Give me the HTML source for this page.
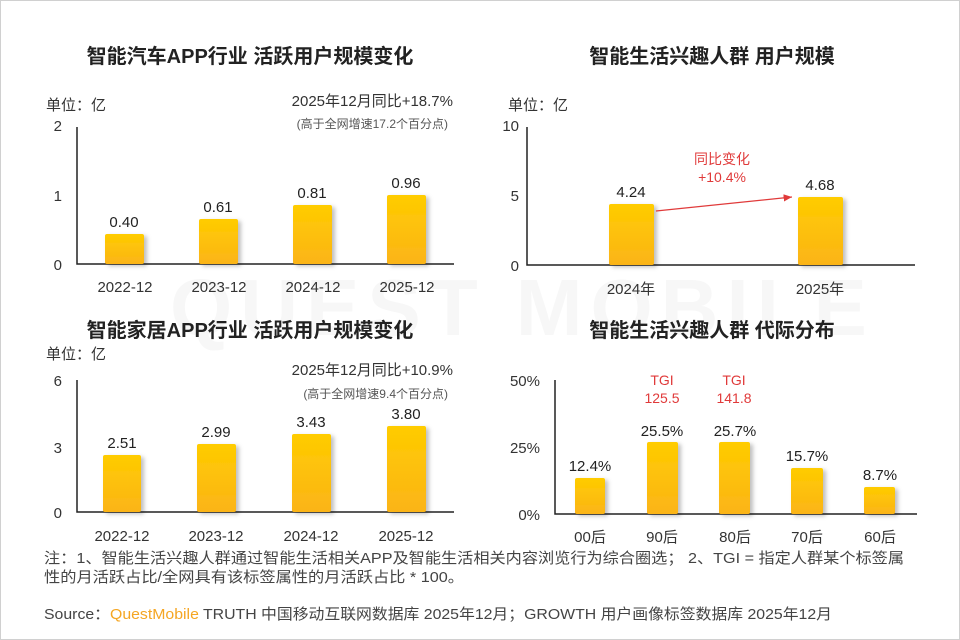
<!DOCTYPE html>
<html><head><meta charset="utf-8"><style>
html,body{margin:0;padding:0;background:#fff;}
svg{display:block;font-family:"Liberation Sans","Noto Sans CJK SC",sans-serif;}
</style></head><body>
<svg width="960" height="640" viewBox="0 0 960 640" xmlns="http://www.w3.org/2000/svg">
<defs>
<linearGradient id="g" x1="0" y1="0" x2="0" y2="1"><stop offset="0" stop-color="#ffcc00"/><stop offset="1" stop-color="#fbb417"/></linearGradient>
<filter id="s" x="-20%" y="-10%" width="150%" height="130%"><feDropShadow dx="3" dy="2" stdDeviation="2" flood-color="#000" flood-opacity="0.25"/></filter>
<marker id="ar" markerWidth="8" markerHeight="8" refX="7" refY="4" orient="auto"><path d="M0,1 L7,4 L0,7 z" fill="#e03a3a"/></marker>
</defs>
<rect x="0.5" y="0.5" width="959" height="639" fill="#fff" stroke="#d0d0d0"/>
<g fill="#f7f7f7" font-size="80" font-weight="bold"><text x="170" y="335" letter-spacing="8">QUEST MOBILE</text></g>
<g font-size="20" font-weight="bold" fill="#222" text-anchor="middle">
<text x="250" y="63">智能汽车APP行业 活跃用户规模变化</text>
<text x="712" y="63">智能生活兴趣人群 用户规模</text>
<text x="250" y="337">智能家居APP行业 活跃用户规模变化</text>
<text x="712" y="337">智能生活兴趣人群 代际分布</text>
</g>
<g font-size="15" fill="#333">
<text x="46" y="110">单位：亿</text>
<text x="508" y="110">单位：亿</text>
<text x="46" y="359">单位：亿</text>
<text x="453" y="106" text-anchor="end">2025年12月同比+18.7%</text>
<text x="453" y="375" text-anchor="end">2025年12月同比+10.9%</text>
</g>
<g font-size="12" fill="#555" text-anchor="end">
<text x="448" y="128">(高于全网增速17.2个百分点)</text>
<text x="448" y="398">(高于全网增速9.4个百分点)</text>
</g>
<g stroke="#222" stroke-width="1.5" fill="none">
<path d="M77,127 V264 H454"/>
<path d="M527,127 V265 H915"/>
<path d="M77,380 V512 H454"/>
<path d="M555,380 V514 H917"/>
</g>
<g font-size="15" fill="#333" text-anchor="end">
<text x="62" y="131">2</text><text x="62" y="201">1</text><text x="62" y="270">0</text>
<text x="519" y="131">10</text><text x="519" y="201">5</text><text x="519" y="271">0</text>
<text x="62" y="386">6</text><text x="62" y="453">3</text><text x="62" y="518">0</text>
<text x="540" y="386">50%</text><text x="540" y="453">25%</text><text x="540" y="520">0%</text>
</g>
<g fill="url(#g)" filter="url(#s)">
<rect x="105" y="234" width="39" height="30" rx="2"/>
<rect x="199" y="219" width="39" height="45" rx="2"/>
<rect x="293" y="205" width="39" height="59" rx="2"/>
<rect x="387" y="195" width="39" height="69" rx="2"/>
<rect x="609" y="204" width="45" height="61" rx="2"/>
<rect x="798" y="197" width="45" height="68" rx="2"/>
<rect x="103" y="455" width="38" height="57" rx="2"/>
<rect x="197" y="444" width="39" height="68" rx="2"/>
<rect x="292" y="434" width="39" height="78" rx="2"/>
<rect x="387" y="426" width="39" height="86" rx="2"/>
<rect x="575" y="478" width="30" height="36" rx="2"/>
<rect x="647" y="442" width="31" height="72" rx="2"/>
<rect x="719" y="442" width="31" height="72" rx="2"/>
<rect x="791" y="468" width="32" height="46" rx="2"/>
<rect x="864" y="487" width="31" height="27" rx="2"/>
</g>
<g font-size="15" fill="#222" text-anchor="middle">
<text x="124" y="227">0.40</text><text x="218" y="212">0.61</text><text x="312" y="198">0.81</text><text x="406" y="188">0.96</text>
<text x="631" y="197">4.24</text><text x="820" y="190">4.68</text>
<text x="122" y="448">2.51</text><text x="216" y="437">2.99</text><text x="311" y="427">3.43</text><text x="406" y="419">3.80</text>
<text x="590" y="471">12.4%</text><text x="662" y="436">25.5%</text><text x="735" y="436">25.7%</text><text x="807" y="461">15.7%</text><text x="880" y="480">8.7%</text>
</g>
<g font-size="15" fill="#333" text-anchor="middle">
<text x="125" y="292">2022-12</text><text x="219" y="292">2023-12</text><text x="313" y="292">2024-12</text><text x="407" y="292">2025-12</text>
<text x="631" y="294">2024年</text><text x="820" y="294">2025年</text>
<text x="122" y="541">2022-12</text><text x="216" y="541">2023-12</text><text x="311" y="541">2024-12</text><text x="406" y="541">2025-12</text>
<text x="590" y="542">00后</text><text x="662" y="542">90后</text><text x="735" y="542">80后</text><text x="807" y="542">70后</text><text x="880" y="542">60后</text>
</g>
<g font-size="14" fill="#e03a3a" text-anchor="middle">
<text x="722" y="164">同比变化</text><text x="722" y="182">+10.4%</text>
<text x="662" y="385">TGI</text><text x="662" y="403">125.5</text>
<text x="734" y="385">TGI</text><text x="734" y="403">141.8</text>
</g>
<line x1="656" y1="211" x2="792" y2="197" stroke="#e03a3a" stroke-width="1.2" marker-end="url(#ar)"/>
<g font-size="15" fill="#444">
<text x="44" y="563" textLength="860" lengthAdjust="spacingAndGlyphs">注：1、智能生活兴趣人群通过智能生活相关APP及智能生活相关内容浏览行为综合圈选； 2、TGI = 指定人群某个标签属</text>
<text x="44" y="582" textLength="420" lengthAdjust="spacingAndGlyphs">性的月活跃占比/全网具有该标签属性的月活跃占比 * 100。</text>
<text x="44" y="619" textLength="788" lengthAdjust="spacingAndGlyphs">Source：<tspan fill="#f5a623">QuestMobile</tspan> TRUTH 中国移动互联网数据库 2025年12月；GROWTH 用户画像标签数据库 2025年12月</text>
</g>
</svg>
</body></html>
